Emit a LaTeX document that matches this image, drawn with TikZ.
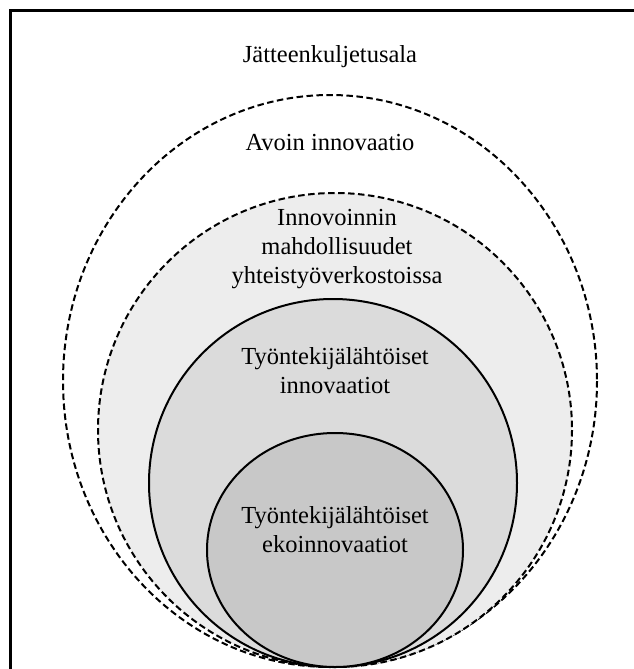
\documentclass[tikz,border=0pt]{standalone}
\usepackage{fontspec}
\setmainfont{Liberation Serif}
\begin{document}
\begin{tikzpicture}[x=1pt,y=-1pt,
  ring/.style={line width=2pt},
  dashring/.style={ring, dash pattern=on 6.5pt off 3.5pt},
  label/.style={align=center, font=\fontsize{24.5}{29}\selectfont, inner sep=0pt}]
\useasboundingbox (0,0) rectangle (634,669);
\clip (0,0) rectangle (634,669);
% frame of the whole field
\draw[line width=2.6pt] (10.5,10.5) rectangle (660,700);
% nested areas, all touching at the bottom
\draw[dashring] (330,381) ellipse [x radius=267, y radius=286];
\draw[dashring, fill=gray!14] (335,430) circle [radius=237];
\draw[ring, fill=gray!28] (333,483) circle [radius=184];
\draw[ring, fill=gray!43] (335,550) ellipse [x radius=128, y radius=117];
% labels
\node[label] (sector) at (330,57) {Jätteenkuljetusala};
\node[label] (open) at (330,143) {Avoin innovaatio};
\node[label] (network) at (337,249) {Innovoinnin\\mahdollisuudet\\yhteistyöverkostoissa};
\node[label] (employee) at (335,371) {Työntekijälähtöiset\\innovaatiot};
\node[label] (eco) at (335,530) {Työntekijälähtöiset\\ekoinnovaatiot};
\end{tikzpicture}
\end{document}
